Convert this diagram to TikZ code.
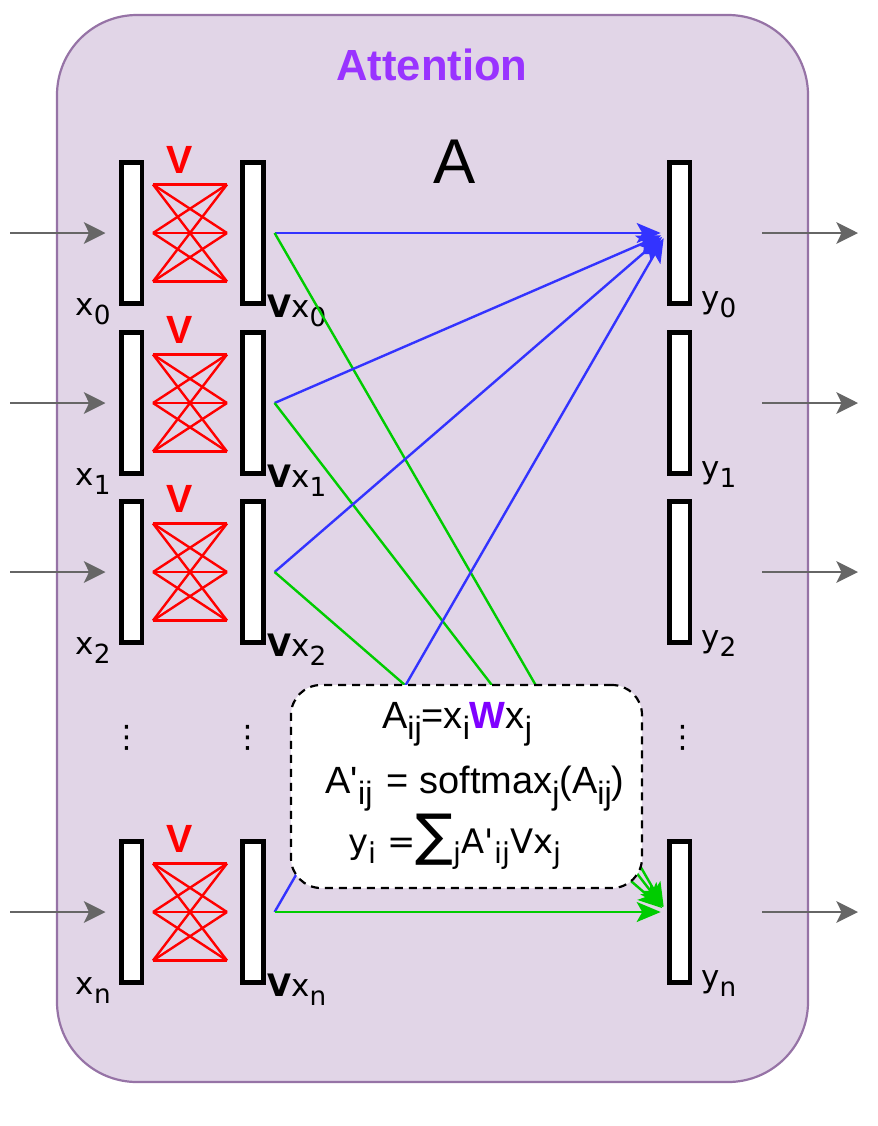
\documentclass[tikz,border=0pt]{standalone}
\usepackage{fontspec}
\setmainfont{Liberation Sans}
\newfontfamily\dejavu{DejaVu Sans}
\usetikzlibrary{arrows.meta}
\definecolor{boxfill}{HTML}{E1D5E7}
\definecolor{boxdraw}{HTML}{9673A6}
\definecolor{titlecol}{HTML}{9933FF}
\definecolor{wcol}{HTML}{7F00FF}
\definecolor{bluecol}{HTML}{3333FF}
\definecolor{greencol}{HTML}{00CC00}
\definecolor{graycol}{HTML}{666666}
\newcommand{\lo}[1]{\raisebox{-0.3em}{\scalebox{0.85}{#1}}}
\tikzset{
  bar/.style={draw, fill=white, line width=1.2mm, minimum width=5.2mm, minimum height=35.3mm, inner sep=0pt},
  lbl/.style={font=\dejavu\fontsize{22}{22}\selectfont, inner sep=0pt},
  vlbl/.style={font=\bfseries\fontsize{28}{28}\selectfont, text=red, inner sep=0pt},
  eqtxt/.style={font=\fontsize{27}{27}\selectfont, inner sep=0pt, anchor=base},
  feed/.style={graycol, line width=0.65mm, -{Stealth[length=5.4mm, width=5.4mm, inset=1.3mm]}},
  attn/.style={line width=0.6mm, shorten >=1.5mm, -{Stealth[length=6mm, width=5mm, inset=1.4mm]}}
}
\begin{document}
\begin{tikzpicture}[x=0.25mm,y=-0.25mm]
\useasboundingbox (0,0) rectangle (878,1126);
%Общий блок внимания
\draw[boxdraw, fill=boxfill, line width=0.55mm, rounded corners=20mm] (57,15) rectangle (808,1082);
\node[font=\bfseries\fontsize{31}{31}\selectfont, text=titlecol, anchor=base] (title) at (432,80) {Attention};
\node[font=\fontsize{45}{45}\selectfont, anchor=base] (amat) at (455,183) {A};
%Строки: входы, матрица V, выходы
\foreach \i/\r in {0/233,1/403,2/572,n/912}{
  \node[bar] (x\i) at (131.5,\r) {};
  \node[bar] (v\i) at (253,\r) {};
  \node[bar] (y\i) at (679.5,\r) {};
  \foreach \a in {-48.5,0,48.5}
    \foreach \b in {-48.5,0,48.5}
      \draw[red, line width=0.6mm] (153,\r+\a) -- (227,\r+\b);
  \node[vlbl] (V\i) at (180,\r-73) {V};
  \node[lbl, anchor=base east] (lx\i) at (111,\r+82) {x\lo{\i}};
  \node[lbl, anchor=base west] (lv\i) at (267,\r+84) {\textbf{V}x\lo{\i}};
  \node[lbl, anchor=base west] (ly\i) at (701,\r+75) {y\lo{\i}};
  \coordinate (in\i) at (10,\r);
  \coordinate (out\i) at (858,\r);
  \draw[feed, shorten >=3.3mm] (in\i) -- (x\i.west);
  \draw[feed, shorten <=17.5mm] (y\i.east) -- (out\i);
}
\node[lbl] (dx) at (127,738) {⋮};
\node[lbl] (dv) at (248,738) {⋮};
\node[lbl] (dy) at (683,738) {⋮};
%Связи с выходами
\foreach \i in {0,1,2,n}{
  \draw[attn, bluecol] ([xshift=2.2mm]v\i.east) -- (y0.west);
  \draw[attn, greencol] ([xshift=2.2mm]v\i.east) -- (yn.west);
}
%Формулы
\node[draw, dashed, dash pattern=on 2mm off 1.5mm, fill=white, line width=0.55mm, rounded corners=7.5mm, minimum width=87.75mm, minimum height=50.75mm] (eq) at (466.5,786.5) {};
\node[eqtxt] (eq1) at (457,728) {A\lo{ij}=x\lo{i}\textbf{\color{wcol}W}x\lo{j}};
\node[eqtxt] (eq2) at (475,793) {A\textquotesingle\lo{ij}\hspace{0.1em} = softmax\lo{j}(A\lo{ij})};
\node[eqtxt, font=\dejavu\fontsize{24}{24}\selectfont] (eq3) at (455,853) {y\lo{i} =\raisebox{-0.05em}{\fontsize{40}{40}\selectfont ∑}\lo{j}A\textquotesingle\lo{ij}Vx\lo{j}};
\end{tikzpicture}
\end{document}
